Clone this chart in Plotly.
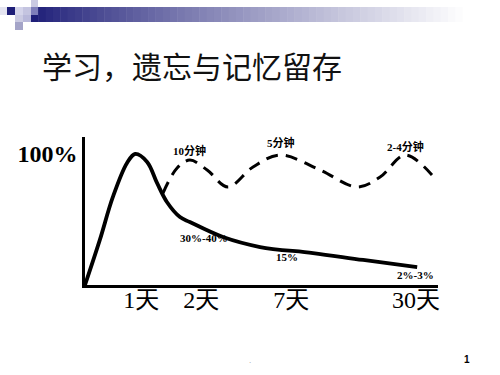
import plotly.graph_objects as go

# ---- data ----
retention_x = [0, 4.2, 7.9, 11.9, 14.2, 17.6, 20.4, 23.2, 26.9, 29.7, 39.1, 49.6, 64.6, 78.8, 94.1]
retention_y = [0, 34.4, 67.2, 93.1, 100, 93.9, 77.9, 63.4, 51.9, 48.1, 36.6, 29.0, 24.4, 19.1, 13.7]

review_x = [22.1, 26.1, 29.7, 34.6, 40.5, 47.6, 55.2, 66.6, 77.1, 83.6, 90.7, 98.3]
review_y = [70.2, 89.3, 95.4, 87.8, 74.8, 90.1, 99.2, 87.8, 74.8, 82.4, 99.2, 84.0]

day_ticks = [15.9, 32.9, 58.4, 93.8]
day_labels = ["1天", "2天", "7天", "30天"]

review_labels = ["10分钟", "5分钟", "2-4分钟"]
review_label_x = [29.7, 55.5, 90.7]
review_label_y = [102.5, 108.5, 105.5]

pct_labels = ["30%-40%", "15%", "2%-3%"]
pct_label_x = [33.7, 57.2, 93.5]
pct_label_y = [35.9, 21.4, 7.6]

title_text = "学习，遗忘与记忆留存"

# ---- layout geometry ----
W, H = 500, 375
L, R, T, B = 85, 62, 137, 90
PW, PH = W - L - R, H - T - B


def pxp(xp):
    return (xp - L) / PW


def pyp(yp):
    return (H - B - yp) / PH


SERIF = "Liberation Serif, Noto Sans CJK SC, serif"

fig = go.Figure()
fig.add_trace(go.Scatter(
    x=retention_x, y=retention_y, mode="lines",
    line=dict(color="black", width=3.8, shape="spline", smoothing=1.0),
    hoverinfo="skip", showlegend=False))
fig.add_trace(go.Scatter(
    x=review_x, y=review_y, mode="lines",
    line=dict(color="black", width=3, shape="spline", smoothing=1.0, dash="12px,8px"),
    hoverinfo="skip", showlegend=False))

annotations = []
for t, x, y in zip(review_labels, review_label_x, review_label_y):
    annotations.append(dict(x=x, y=y, xref="x", yref="y", text="<b>" + t + "</b>", showarrow=False,
                            font=dict(family=SERIF, size=11, color="black"), xanchor="center", yanchor="middle"))
for t, x, y in zip(pct_labels, pct_label_x, pct_label_y):
    annotations.append(dict(x=x, y=y, xref="x", yref="y", text="<b>" + t + "</b>", showarrow=False,
                            font=dict(family=SERIF, size=11, color="black"), xanchor="center", yanchor="middle"))

# title
annotations.append(dict(x=pxp(40), y=pyp(65), xref="paper", yref="paper", text=title_text,
                        showarrow=False, xanchor="left", yanchor="middle",
                        font=dict(family="Noto Sans CJK SC", size=30, color="#111111")))
# page number and footer dot
annotations.append(dict(x=pxp(467), y=pyp(359), xref="paper", yref="paper", text="<b>1</b>",
                        showarrow=False, xanchor="center", yanchor="middle",
                        font=dict(family="Liberation Sans", size=10, color="black")))
annotations.append(dict(x=pxp(250), y=pyp(360), xref="paper", yref="paper", text=".",
                        showarrow=False, xanchor="center", yanchor="middle",
                        font=dict(family="Liberation Sans", size=8, color="#999999")))

shapes = []
# gradient header bar
x_start, x_end, n = 31, 470, 60
c0 = (30, 30, 120)
c1 = (255, 255, 255)
step = (x_end - x_start) / n
for i in range(n):
    f = (i / (n - 1)) ** 0.85
    c = tuple(int(round(a + (b - a) * f)) for a, b in zip(c0, c1))
    shapes.append(dict(type="rect", xref="paper", yref="paper",
                       x0=pxp(x_start + i * step), x1=pxp(x_start + (i + 1) * step + 0.5),
                       y0=pyp(22), y1=pyp(7), fillcolor="rgb(%d,%d,%d)" % c, line=dict(width=0),
                       layer="below"))
# decorative squares
squares = [
    (0, 7, 7, 15, "#E4E4F0"),
    (7, 7, 15, 15, "#1E1E78"),
    (15, 7, 23, 15, "#D4D4EA"),
    (23, 7, 31, 15, "#C4C4E0"),
    (31, 7, 38, 15, "#7E7EBA"),
    (15, 15, 23, 22, "#CACAE2"),
    (23, 15, 31, 22, "#B8B8DA"),
    (15, 22, 23, 30, "#A4A4C8"),
    (31, 0, 38, 7, "#CACAE2"),
]
for x0, y0, x1, y1, col in squares:
    shapes.append(dict(type="rect", xref="paper", yref="paper",
                       x0=pxp(x0), x1=pxp(x1), y0=pyp(y1), y1=pyp(y0),
                       fillcolor=col, line=dict(width=0), layer="above"))

fig.update_layout(
    width=W, height=H,
    margin=dict(l=L, r=R, t=T, b=B, pad=0),
    paper_bgcolor="white", plot_bgcolor="white",
    xaxis=dict(range=[0, 100], showgrid=False, zeroline=False, showline=True,
               linecolor="black", linewidth=2.5, ticks="",
               tickvals=day_ticks, ticktext=day_labels, ticklabelstandoff=-9,
               tickfont=dict(family=SERIF, size=24, color="black")),
    yaxis=dict(range=[0, (H - B - T) / 1.31], showgrid=False, zeroline=False, showline=True,
               linecolor="black", linewidth=2.5, ticks="",
               tickvals=[100], ticktext=["<b>100%</b>"], ticklabelstandoff=0,
               tickfont=dict(family=SERIF, size=24, color="black")),
    annotations=annotations,
    shapes=shapes,
    showlegend=False,
)

fig.write_html("out.html", config={"displayModeBar": False},
               post_script="document.body.style.margin='0';document.body.style.overflow='hidden';")
